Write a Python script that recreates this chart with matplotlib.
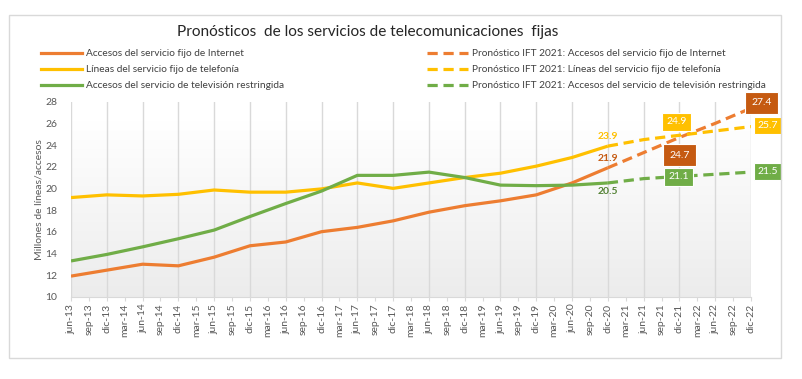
import matplotlib
matplotlib.use("Agg")
import matplotlib.pyplot as plt
import numpy as np
from matplotlib.lines import Line2D
from matplotlib.patches import Rectangle

plt.rcParams['font.family'] = ['Lato', 'DejaVu Sans']

# ---------------- data ----------------
quarters = ["jun-13", "sep-13", "dic-13", "mar-14", "jun-14", "sep-14", "dic-14", "mar-15",
            "jun-15", "sep-15", "dic-15", "mar-16", "jun-16", "sep-16", "dic-16", "mar-17",
            "jun-17", "sep-17", "dic-17", "mar-18", "jun-18", "sep-18", "dic-18", "mar-19",
            "jun-19", "sep-19", "dic-19", "mar-20", "jun-20", "sep-20", "dic-20", "mar-21",
            "jun-21", "sep-21", "dic-21", "mar-22", "jun-22", "sep-22", "dic-22"]

hist_periods = ["jun-13", "dic-13", "jun-14", "dic-14", "jun-15", "dic-15", "jun-16", "dic-16",
                "jun-17", "dic-17", "jun-18", "dic-18", "jun-19", "dic-19", "jun-20", "dic-20"]
internet = [11.9, 12.45, 13.0, 12.85, 13.65, 14.7, 15.05, 16.0,
            16.4, 17.0, 17.8, 18.4, 18.85, 19.4, 20.5, 21.9]
telefonia = [19.15, 19.4, 19.3, 19.45, 19.85, 19.65, 19.65, 19.95,
             20.5, 20.0, 20.5, 21.0, 21.4, 22.05, 22.85, 23.9]
television = [13.3, 13.9, 14.6, 15.35, 16.15, 17.4, 18.6, 19.75,
              21.2, 21.2, 21.5, 21.0, 20.3, 20.25, 20.3, 20.5]

fc_periods = ["dic-20", "jun-21", "dic-21", "jun-22", "dic-22"]
fc_internet = [21.9, 23.3, 24.7, 26.0, 27.4]
fc_telefonia = [23.9, 24.5, 24.9, 25.3, 25.7]
fc_television = [20.5, 20.9, 21.1, 21.3, 21.5]

labels_hist = ["Accesos del servicio fijo de Internet",
               "Líneas del servicio fijo de telefonía",
               "Accesos del servicio de televisión restringida"]
labels_fc = ["Pronóstico IFT 2021: Accesos del servicio fijo de Internet",
             "Pronóstico IFT 2021: Líneas del servicio fijo de telefonía",
             "Pronóstico IFT 2021: Accesos del servicio de televisión restringida"]

title = "Pronósticos  de los servicios de telecomunicaciones  fijas"
ylabel = "Millones de líneas/accesos"
yticks = [10, 12, 14, 16, 18, 20, 22, 24, 26, 28]

# ---------------- style ----------------
C_OR = "#ED7D31"
C_YE = "#FFC000"
C_GR = "#70AD47"
C_OR_D = "#C55A11"
C_TXT = "#595959"
W, H = 803, 379

fig = plt.figure(figsize=(W / 100, H / 100), dpi=100)
fig.patch.set_facecolor("white")

# chart border
fig.add_artist(Rectangle((9 / W, 1 - 358 / H), (781 - 9) / W, (358 - 15) / H,
                         transform=fig.transFigure, fill=False, edgecolor="#d9d9d9", lw=1.0))

ax = fig.add_axes([71 / W, 1 - 296.7 / H, (751 - 71) / W, (296.7 - 101.7) / H])
xi = {q: i for i, q in enumerate(quarters)}
xmax = len(quarters) - 1

# gradient background (white at top -> light gray at bottom)
grad = np.linspace(0, 1, 256).reshape(-1, 1)
top = np.array([1.0, 1.0, 1.0])
bot = np.array([0.925, 0.925, 0.925])
t = np.clip((grad - 0.10) / 0.90, 0, 1)
img = (top * (1 - t) + bot * t).reshape(256, 1, 3)
ax.imshow(img, extent=[0, xmax, 10, 28], aspect="auto", zorder=0, origin="upper")
ax.set_xlim(0, xmax)
ax.set_ylim(10, 28)

# vertical gridlines at semiannual categories
for q in hist_periods + fc_periods[1:]:
    ax.axvline(xi[q], color="#d9d9d9", lw=1.0, zorder=1)

hx = [xi[q] for q in hist_periods]
fx = [xi[q] for q in fc_periods]
lw = 2.3
ax.plot(hx, internet, color=C_OR, lw=lw, zorder=3, solid_capstyle="butt")
ax.plot(hx, telefonia, color=C_YE, lw=lw, zorder=3, solid_capstyle="butt")
ax.plot(hx, television, color=C_GR, lw=lw, zorder=3, solid_capstyle="butt")
dash = (0, (3.2, 1.8))
ax.plot(fx, fc_internet, color=C_OR, lw=lw, ls=dash, zorder=3)
ax.plot(fx, fc_telefonia, color=C_YE, lw=lw, ls=dash, zorder=3)
ax.plot(fx, fc_television, color=C_GR, lw=lw, ls=dash, zorder=3)

# axes styling
for s in ["top", "right", "left"]:
    ax.spines[s].set_visible(False)
ax.spines["bottom"].set_color("#d9d9d9")
ax.set_xticks(range(len(quarters)))
ax.set_xticklabels(quarters, rotation=90, fontsize=7.5, color=C_TXT)
ax.tick_params(axis="x", length=3, color="#d9d9d9", pad=2)
ax.set_yticks(yticks)
ax.set_yticklabels([str(v) for v in yticks], fontsize=7.5, color=C_TXT)
ax.tick_params(axis="y", length=0, pad=10)
ax.set_ylabel(ylabel, fontsize=7.5, color=C_TXT, labelpad=1)

# data labels
fs = 7.5
d0 = xi[fc_periods[0]]
ax.text(d0, fc_telefonia[0] + 0.5, f"{fc_telefonia[0]:.1f}", color=C_YE, fontsize=fs,
        ha="center", va="bottom", fontweight="bold", zorder=5)
ax.text(d0, fc_internet[0] + 0.4, f"{fc_internet[0]:.1f}", color=C_OR_D, fontsize=fs,
        ha="center", va="bottom", fontweight="bold", zorder=5)
ax.text(d0, fc_television[0] - 0.35, f"{fc_television[0]:.1f}", color="#548235", fontsize=fs,
        ha="center", va="top", fontweight="bold", zorder=5)

def box(x, y, val, fc, pad):
    ax.text(x, y, f"{val:.1f}", color="white", fontsize=fs, ha="center", va="center",
            zorder=6, clip_on=False,
            bbox=dict(boxstyle=f"square,pad={pad}", fc=fc, ec="white", lw=0.8))

d1 = xi[fc_periods[2]]
d2 = xi[fc_periods[4]]
box(d1 - 0.17, fc_telefonia[2] + 1.23, fc_telefonia[2], C_YE, 0.4)
box(d1 - 0.0, fc_internet[2] - 1.62, fc_internet[2], C_OR_D, 0.6)
box(d1 - 0.05, fc_television[2] - 0.05, fc_television[2], C_GR, 0.4)
box(d2 + 0.6, fc_internet[4] + 0.5, fc_internet[4], C_OR_D, 0.6)
box(d2 + 0.95, fc_telefonia[4] + 0.1, fc_telefonia[4], C_YE, 0.4)
box(d2 + 0.95, fc_television[4] + 0.05, fc_television[4], C_GR, 0.4)

# title
fig.text(368 / W, 1 - 32 / H, title, ha="center", va="center", fontsize=11.1, color="#262626")

# legends
h_hist = [Line2D([], [], color=c, lw=lw) for c in (C_OR, C_YE, C_GR)]
h_fc = [Line2D([], [], color=c, lw=lw, ls=dash) for c in (C_OR, C_YE, C_GR)]
leg_kw = dict(frameon=False, fontsize=7.3, handlelength=4.0, handletextpad=0.4,
              labelspacing=0.7, borderpad=0, borderaxespad=0, loc="upper left",
              bbox_transform=fig.transFigure)
leg1 = fig.legend(h_hist, labels_hist, bbox_to_anchor=(41 / W, 1 - 49 / H), **leg_kw)
leg2 = fig.legend(h_fc, labels_fc, bbox_to_anchor=(427 / W, 1 - 49 / H), **leg_kw)
for lg in (leg1, leg2):
    for tx in lg.get_texts():
        tx.set_color("#404040")

fig.savefig("out.png", dpi=100, facecolor="white")
